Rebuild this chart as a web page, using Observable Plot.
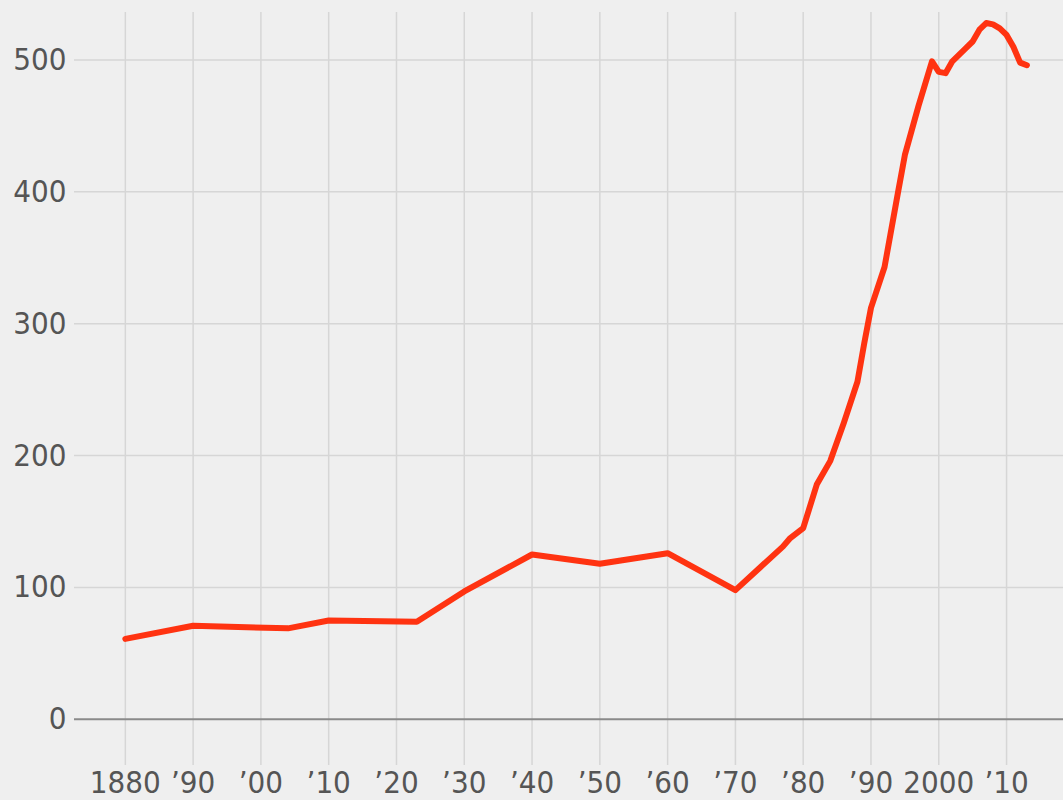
<!DOCTYPE html>
<html>
<head>
<meta charset="utf-8">
<script src="https://cdn.jsdelivr.net/npm/d3@7"></script>
<script src="https://cdn.jsdelivr.net/npm/@observablehq/plot@0.6"></script>
<style>
  html, body { margin: 0; padding: 0; background: #efefef; }
  #chart svg { display: block; background: #efefef; }
</style>
</head>
<body>
<div id="chart"></div>
<script>
const years = [1880, 1890, 1904, 1910, 1923, 1930, 1940, 1950, 1960, 1970, 1977, 1978, 1980, 1982, 1984, 1986, 1988, 1989, 1990, 1992, 1994, 1995, 1997, 1999, 2000, 2001, 2002, 2004, 2005, 2006, 2007, 2008, 2009, 2010, 2011, 2012, 2013];
const values = [61, 71, 69, 75, 74, 97, 125, 118, 126, 98, 131, 137, 145, 178, 196, 225, 256, 285, 312, 343, 400, 428, 465, 499, 491, 490, 499, 509, 514, 523, 528, 527, 524, 519, 510, 498, 496];
const xTicks = [1880, 1890, 1900, 1910, 1920, 1930, 1940, 1950, 1960, 1970, 1980, 1990, 2000, 2010];
const xTickLabels = ["1880", "’90", "’00", "’10", "’20", "’30", "’40", "’50", "’60", "’70", "’80", "’90", "2000", "’10"];
const yTicks = [0, 100, 200, 300, 400, 500];
const yTickLabels = ["0", "100", "200", "300", "400", "500"];

const data = years.map((y, i) => ({year: y, value: values[i]}));
const xLabelMap = new Map(xTicks.map((t, i) => [t, xTickLabels[i]]));
const yLabelMap = new Map(yTicks.map((t, i) => [t, yTickLabels[i]]));

const chart = Plot.plot({
  width: 1063,
  height: 800,
  marginLeft: 74,
  marginRight: 0,
  marginTop: 12,
  marginBottom: 35,
  style: {background: "#efefef", fontFamily: "'DejaVu Sans Condensed', 'DejaVu Sans', sans-serif"},
  x: {domain: [1872.5, 2018.4]},
  y: {domain: [-35, 536]},
  marks: [
    Plot.ruleX(xTicks, {stroke: "#d6d6d6", strokeWidth: 1.5}),
    Plot.ruleY(yTicks.filter(d => d > 0), {stroke: "#d6d6d6", strokeWidth: 1.5}),
    Plot.ruleY([0], {stroke: "#8a8a8a", strokeWidth: 2}),
    Plot.axisY(yTicks, {
      tickSize: 0, tickPadding: 8, fontSize: 31, fill: "#555",
      tickFormat: (d) => yLabelMap.get(d), label: null, letterSpacing: 0
    }),
    Plot.axisX(xTicks, {
      tickSize: 0, tickPadding: 5, fontSize: 31, fill: "#555",
      tickFormat: (d) => xLabelMap.get(d), label: null, letterSpacing: 0
    }),
    Plot.line(data, {x: "year", y: "value", stroke: "#ff3311", strokeWidth: 6, curve: "linear", strokeLinejoin: "round", strokeLinecap: "round"})
  ]
});
document.getElementById("chart").append(chart);
</script>
</body>
</html>
